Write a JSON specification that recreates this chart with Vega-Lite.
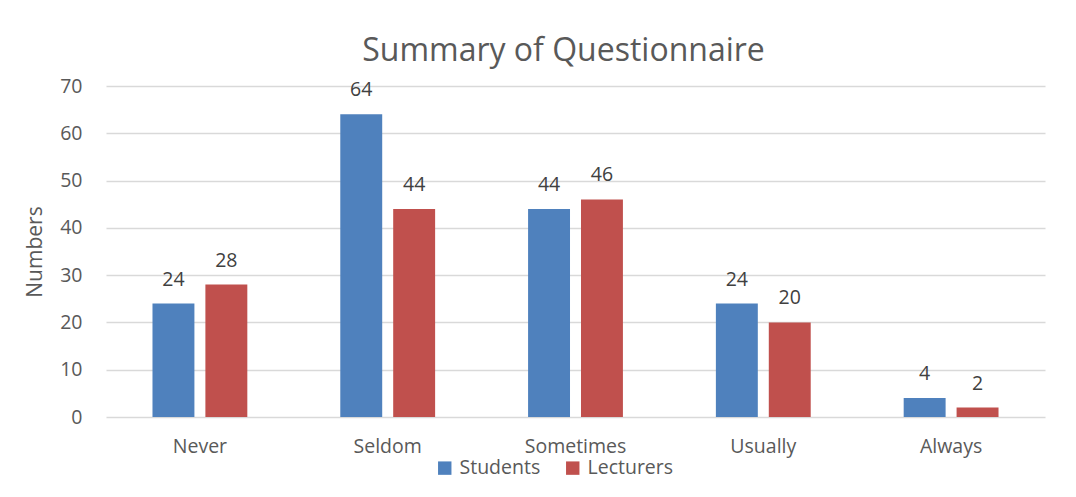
{
  "$schema": "https://vega.github.io/schema/vega-lite/v6.json",
  "autosize": "none",
  "width": 939,
  "height": 331,
  "padding": {"left": 106, "top": 86, "right": 31, "bottom": 80},
  "background": "white",
  "config": {"view": {"stroke": null}},
  "title": {
    "text": "Summary of Questionnaire",
    "fontSize": 32,
    "font": "Open Sans",
    "fontWeight": "normal",
    "color": "#595959",
    "anchor": "middle",
    "dx": -12,
    "offset": 8
  },
  "data": {
    "values": [
      {"category": "Never", "group": "Students", "value": 24},
      {"category": "Never", "group": "Lecturers", "value": 28},
      {"category": "Seldom", "group": "Students", "value": 64},
      {"category": "Seldom", "group": "Lecturers", "value": 44},
      {"category": "Sometimes", "group": "Students", "value": 44},
      {"category": "Sometimes", "group": "Lecturers", "value": 46},
      {"category": "Usually", "group": "Students", "value": 24},
      {"category": "Usually", "group": "Lecturers", "value": 20},
      {"category": "Always", "group": "Students", "value": 4},
      {"category": "Always", "group": "Lecturers", "value": 2}
    ]
  },
  "encoding": {
    "x": {
      "field": "category",
      "type": "nominal",
      "sort": ["Never", "Seldom", "Sometimes", "Usually", "Always"],
      "scale": {"paddingInner": 0.495, "paddingOuter": 0.2475},
      "axis": {
        "title": null,
        "labelAngle": 0,
        "ticks": false,
        "domain": false,
        "labelFont": "Open Sans",
        "labelFontSize": 19.5,
        "labelColor": "#595959",
        "labelPadding": 20
      }
    },
    "xOffset": {
      "field": "group",
      "type": "nominal",
      "sort": ["Students", "Lecturers"],
      "scale": {"paddingInner": 0.2075, "paddingOuter": 0}
    },
    "y": {
      "field": "value",
      "type": "quantitative",
      "scale": {"domain": [0, 70]},
      "axis": {
        "title": "Numbers",
        "titleFont": "Open Sans",
        "titleFontSize": 21,
        "titleFontWeight": "normal",
        "titleColor": "#595959",
        "titlePadding": 14,
        "values": [0, 10, 20, 30, 40, 50, 60, 70],
        "ticks": false,
        "domain": false,
        "grid": true,
        "gridColor": "#d9d9d9",
        "gridWidth": 1.3,
        "labelFont": "Open Sans",
        "labelFontSize": 19.5,
        "labelColor": "#595959",
        "labelPadding": 24
      }
    }
  },
  "layer": [
    {
      "mark": {"type": "bar"},
      "encoding": {
        "color": {
          "field": "group",
          "type": "nominal",
          "sort": ["Students", "Lecturers"],
          "scale": {"domain": ["Students", "Lecturers"], "range": ["#4F81BD", "#C0504D"]},
          "legend": {
            "title": null,
            "orient": "none",
            "direction": "horizontal",
            "legendX": 329,
            "legendY": 372,
            "symbolType": "square",
            "symbolSize": 180,
            "symbolStrokeWidth": 0,
            "labelFont": "Open Sans",
            "labelFontSize": 19.5,
            "labelColor": "#595959",
            "labelOffset": 5,
            "columnPadding": 22
          }
        }
      }
    },
    {
      "mark": {"type": "text", "dy": -14, "baseline": "bottom", "font": "Open Sans", "fontSize": 19.5, "color": "#404040"},
      "encoding": {
        "text": {"field": "value", "type": "quantitative"}
      }
    }
  ]
}
